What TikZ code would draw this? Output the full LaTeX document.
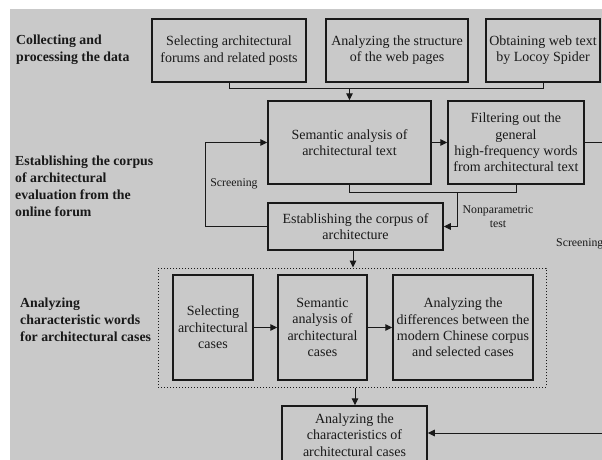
\documentclass[tikz,border=0pt]{standalone}
\usepackage{fontspec}
\setmainfont{Liberation Serif}
\usetikzlibrary{arrows.meta}
\definecolor{bg}{RGB}{201,201,201}
\definecolor{ink}{RGB}{25,25,25}
\begin{document}
\begin{tikzpicture}[x=1pt,y=-1pt,
 box/.style={draw=ink, line width=1.5pt, align=center, inner sep=0pt, font=\fontsize{14}{16.3}\selectfont, text=ink},
 conn/.style={draw=ink, line width=1pt},
 arr/.style={conn, -{Triangle[length=7pt,width=6.5pt]}},
 lab/.style={font=\fontsize{11.8}{14}\selectfont, align=center, text=ink, inner sep=0pt},
 side/.style={font=\bfseries\fontsize{13.8}{17}\selectfont, align=left, anchor=west, text=ink, inner sep=0pt}]
\useasboundingbox (0,0) rectangle (602,460);
\clip (0,0) rectangle (602,460);
\fill[bg] (10,9) rectangle (602,460);

% side labels
\node[side] (s1) at (16,50) {Collecting and\\processing the data};
\node[side] (s2) at (15,186) {Establishing the corpus\\of architectural\\evaluation from the\\online forum};
\node[side] (s3) at (20,320) {Analyzing\\characteristic words\\for architectural cases};

% row 1
\node[box, minimum width=154pt, minimum height=63pt] (b1) at (229,50.5) {Selecting architectural\\forums and related posts};
\node[box, minimum width=142pt, minimum height=63pt] (b2) at (397,50.5) {Analyzing the structure\\of the web pages};
\node[box, minimum width=114pt, minimum height=63pt] (b3) at (543,50.5) {Obtaining web text\\by Locoy Spider};

% row 2
\node[box, minimum width=163pt, minimum height=83pt] (sem) at (349.5,142.5) {Semantic analysis of\\architectural text};
\node[box, minimum width=136pt, minimum height=83pt] (fil) at (516,142.5) {Filtering out the\\general\\high-frequency words\\from architectural text};
\node[box, minimum width=175pt, minimum height=47pt] (est) at (355.5,226.5) {Establishing the corpus of\\architecture};

% dotted group
\node[draw=ink, dotted, line width=1pt, minimum width=388pt, minimum height=119pt, inner sep=0pt] (grp) at (352,327.5) {};
\node[box, minimum width=80pt, minimum height=105pt] (ca) at (213,327.5) {Selecting\\architectural\\cases};
\node[box, minimum width=89pt, minimum height=105pt] (cb) at (322.5,327.5) {Semantic\\analysis of\\architectural\\cases};
\node[box, minimum width=140pt, minimum height=105pt] (cc) at (463,327.5) {Analyzing the\\differences between the\\modern Chinese corpus\\and selected cases};

% final
\node[box, minimum width=145pt, minimum height=58pt] (fin) at (354.5,435) {Analyzing the\\characteristics of\\architectural cases};

% labels
\node[lab] (scr1) at (234,184) {Screening};
\node[lab] (npt) at (498,217) {Nonparametric\\test};
\node[lab, anchor=west] (scr2) at (556,244) {Screening};

% coordinates at the right edge
\coordinate (r1) at (602,142.5);
\coordinate (r2) at (602,433);

% connectors
\draw[conn] (b1.south) -- ++(0,6) coordinate (j1) -| (b3.south);
\draw[arr] (j1 -| sem.north) -- (sem.north);
\draw[arr] (sem.east) -- (fil.west);
\draw[conn] (fil.east) -- (r1);
\draw[conn] (sem.south) -- ++(0,8) coordinate (j2) -| (fil.south);
\draw[arr] (457,192) |- (est.east);
\draw[arr] (est.west) -- ++(-62,0) |- (sem.west);
\draw[arr] (est.south -| 353,0) -- (grp.north -| 353,0);
\draw[arr] (ca.east) -- (cb.west);
\draw[arr] (cb.east) -- (cc.west);
\draw[arr] (grp.south -| 355,0) -- (fin.north -| 355,0);
\draw[arr] (r2) -- (fin.east |- r2);
\end{tikzpicture}
\end{document}
